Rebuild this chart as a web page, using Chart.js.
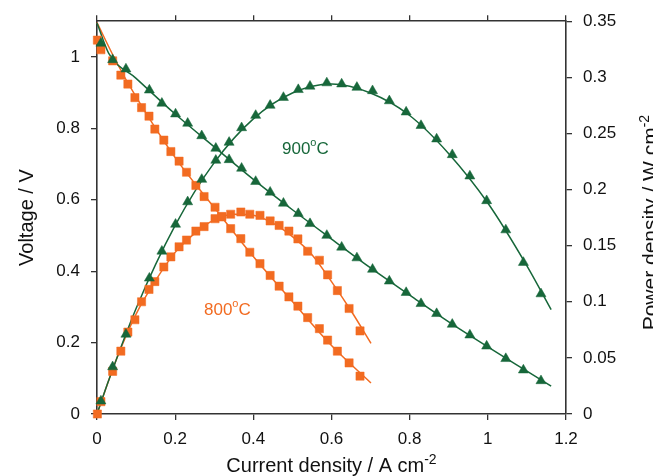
<!DOCTYPE html>
<html><head><meta charset="utf-8">
<script src="https://cdn.jsdelivr.net/npm/chart.js@4/dist/chart.umd.min.js"></script>
<style>html,body{margin:0;padding:0;background:#fff}canvas{display:block}</style>
</head><body>
<canvas id="c" width="653" height="476"></canvas>
<script>
// ---- 900 °C measured points ----
const current900 = [0.010, 0.040, 0.074, 0.134, 0.166, 0.201, 0.232, 0.268, 0.304, 0.338, 0.370, 0.406, 0.443, 0.477, 0.515, 0.545, 0.588, 0.626, 0.665, 0.705, 0.748, 0.791, 0.829, 0.869, 0.909, 0.954, 0.997, 1.046, 1.091, 1.136];
const voltage900 = [1.038, 0.992, 0.966, 0.907, 0.870, 0.840, 0.814, 0.779, 0.744, 0.712, 0.688, 0.651, 0.621, 0.590, 0.561, 0.533, 0.500, 0.467, 0.437, 0.405, 0.372, 0.340, 0.309, 0.281, 0.251, 0.221, 0.190, 0.155, 0.123, 0.093];
const power900 = [0.0115, 0.042, 0.071, 0.121, 0.145, 0.169, 0.189, 0.209, 0.226, 0.242, 0.255, 0.266, 0.275, 0.282, 0.289, 0.292, 0.295, 0.294, 0.291, 0.288, 0.279, 0.269, 0.257, 0.245, 0.231, 0.212, 0.190, 0.164, 0.135, 0.107];

// ---- 800 °C measured points ----
const current800 = [0.001, 0.010, 0.040, 0.061, 0.079, 0.097, 0.114, 0.133, 0.148, 0.171, 0.189, 0.210, 0.229, 0.253, 0.274, 0.302, 0.319, 0.342, 0.368, 0.391, 0.417, 0.443, 0.466, 0.491, 0.514, 0.539, 0.569, 0.590, 0.615, 0.645, 0.673];
const voltage800 = [1.047, 1.020, 0.989, 0.949, 0.924, 0.886, 0.858, 0.834, 0.798, 0.767, 0.735, 0.708, 0.677, 0.640, 0.609, 0.579, 0.552, 0.519, 0.491, 0.453, 0.421, 0.388, 0.358, 0.328, 0.302, 0.270, 0.239, 0.207, 0.176, 0.143, 0.106];
const power800 = [0.000, 0.011, 0.038, 0.056, 0.073, 0.084, 0.100, 0.111, 0.118, 0.131, 0.140, 0.149, 0.155, 0.163, 0.167, 0.174, 0.176, 0.178, 0.180, 0.178, 0.177, 0.172, 0.168, 0.163, 0.156, 0.145, 0.137, 0.124, 0.110, 0.094, 0.074];

// ---- fitted curves ----
const fitCurrent900V = [0, 0.03, 0.1, 0.2, 0.3, 0.4, 0.5, 0.6, 0.7, 0.8, 0.9, 1.0, 1.1, 1.162];
const fitVoltage900 = [1.095, 1.010, 0.940, 0.840, 0.748, 0.657, 0.572, 0.490, 0.409, 0.333, 0.258, 0.188, 0.120, 0.078];
const fitCurrent900P = [0, 0.03, 0.1, 0.2, 0.3, 0.4, 0.5, 0.6, 0.7, 0.8, 0.9, 1.0, 1.1, 1.162];
const fitPower900 = [0, 0.030, 0.094, 0.168, 0.224, 0.263, 0.286, 0.294, 0.286, 0.266, 0.232, 0.188, 0.132, 0.093];
const fitCurrent800V = [0, 0.05, 0.1, 0.2, 0.3, 0.4, 0.5, 0.6, 0.701];
const fitVoltage800 = [1.096, 0.985, 0.888, 0.718, 0.578, 0.441, 0.315, 0.192, 0.087];
const fitCurrent800P = [0, 0.05, 0.1, 0.15, 0.2, 0.25, 0.3, 0.35, 0.4, 0.45, 0.5, 0.55, 0.6, 0.65, 0.701];
const fitPower800 = [0, 0.049, 0.089, 0.119, 0.144, 0.161, 0.173, 0.178, 0.177, 0.170, 0.158, 0.142, 0.118, 0.092, 0.063];

// ---- ticks ----
const xTicks = [0, 0.2, 0.4, 0.6, 0.8, 1, 1.2];
const xTickLabels = ['0', '0.2', '0.4', '0.6', '0.8', '1', '1.2'];
const vTicks = [0, 0.2, 0.4, 0.6, 0.8, 1];
const vTickLabels = ['0', '0.2', '0.4', '0.6', '0.8', '1'];
const pTicks = [0, 0.05, 0.1, 0.15, 0.2, 0.25, 0.3, 0.35];
const pTickLabels = ['0', '0.05', '0.1', '0.15', '0.2', '0.25', '0.3', '0.35'];

const GREEN = '#17673a';
const ORANGE = '#f26b21';
const AXIS = '#333333';
const FF = '"Liberation Sans", Arial, Helvetica, sans-serif';

function pts(xs, ys) { return xs.map((x, i) => ({x: x, y: ys[i]})); }
function setTicks(vals) { return s => { s.ticks = vals.map(v => ({value: v})); }; }
function lab(vals, labels) {
  return v => { const i = vals.findIndex(t => Math.abs(t - v) < 1e-9); return i >= 0 ? labels[i] : ''; };
}

function markers(data, axis, color, style) {
  return {data: data, yAxisID: axis, showLine: false, pointStyle: style,
    pointRadius: style === 'triangle' ? 5.8 : 5.8, pointHoverRadius: 5.6,
    pointBackgroundColor: color, pointBorderColor: color, pointBorderWidth: 0.5,
    order: 0, clip: 10};
}
function fitLine(data, axis, color) {
  return {data: data, yAxisID: axis, showLine: true, pointRadius: 0, borderColor: color,
    borderWidth: 1.5, cubicInterpolationMode: 'monotone', fill: false, order: 1, clip: 10};
}

function drawRuns(ctx, runs, x, y, align) {
  let total = 0;
  runs.forEach(r => { ctx.font = r.size + 'px ' + FF; r.w = ctx.measureText(r.text).width; total += r.w; });
  let cx = align === 'center' ? x - total / 2 : x;
  ctx.textAlign = 'left'; ctx.textBaseline = 'alphabetic';
  runs.forEach(r => { ctx.font = r.size + 'px ' + FF; ctx.fillText(r.text, cx, y - (r.rise || 0)); cx += r.w; });
}

const textPlugin = {
  id: 'texts',
  afterDraw(chart) {
    const ctx = chart.ctx, a = chart.chartArea;
    const cx = (a.left + a.right) / 2, cy = (a.top + a.bottom) / 2;
    ctx.save();
    ctx.fillStyle = '#111';
    drawRuns(ctx, [{text: 'Current density / A cm', size: 20}, {text: '-2', size: 14, rise: 8}], cx, 472, 'center');
    ctx.save(); ctx.translate(33, cy); ctx.rotate(-Math.PI / 2);
    drawRuns(ctx, [{text: 'Voltage / V', size: 20}], 0, 0, 'center');
    ctx.restore();
    ctx.save(); ctx.translate(657, cy + 5); ctx.rotate(-Math.PI / 2);
    drawRuns(ctx, [{text: 'Power density / W cm', size: 21}, {text: '-2', size: 14, rise: 8}], 0, 0, 'center');
    ctx.restore();
    ctx.fillStyle = GREEN;
    drawRuns(ctx, [{text: '900', size: 17}, {text: 'o', size: 11, rise: 8}, {text: 'C', size: 17}], 282, 154, 'left');
    ctx.fillStyle = ORANGE;
    drawRuns(ctx, [{text: '800', size: 17}, {text: 'o', size: 11, rise: 8}, {text: 'C', size: 17}], 204, 315, 'left');
    ctx.restore();
  }
};

const gridOpts = {drawOnChartArea: false, drawTicks: true, tickLength: 6, color: AXIS, lineWidth: 1.3};
const borderOpts = {display: true, color: AXIS, width: 1.6};
const tickFont = {family: FF, size: 17};

new Chart(document.getElementById('c'), {
  type: 'scatter',
  data: {
    datasets: [
      markers(pts(current900, voltage900), 'y', GREEN, 'triangle'),
      markers(pts(current900, power900), 'y2', GREEN, 'triangle'),
      markers(pts(current800, voltage800), 'y', ORANGE, 'rect'),
      markers(pts(current800, power800), 'y2', ORANGE, 'rect'),
      fitLine(pts(fitCurrent900V, fitVoltage900), 'y', GREEN),
      fitLine(pts(fitCurrent900P, fitPower900), 'y2', GREEN),
      fitLine(pts(fitCurrent800V, fitVoltage800), 'y', ORANGE),
      fitLine(pts(fitCurrent800P, fitPower800), 'y2', ORANGE)
    ]
  },
  options: {
    responsive: false, animation: false, devicePixelRatio: 1,
    layout: {padding: 0},
    plugins: {legend: {display: false}, tooltip: {enabled: false}},
    scales: {
      x: {type: 'linear', position: 'bottom', min: 0, max: 1.2,
        afterBuildTicks: setTicks(xTicks),
        afterFit: s => { s.height = 62; },
        grid: gridOpts, border: borderOpts,
        ticks: {font: tickFont, color: '#111', padding: 9, maxRotation: 0, callback: lab(xTicks, xTickLabels)}},
      xTop: {type: 'linear', position: 'top', min: 0, max: 1.2,
        afterBuildTicks: setTicks(xTicks),
        afterFit: s => { s.height = 20; },
        grid: gridOpts, border: borderOpts,
        ticks: {display: false}},
      y: {type: 'linear', position: 'left', min: 0, max: 1.1,
        afterBuildTicks: setTicks(vTicks),
        afterFit: s => { s.width = 97; },
        grid: gridOpts, border: borderOpts,
        ticks: {font: tickFont, color: '#111', padding: 11, callback: lab(vTicks, vTickLabels)}},
      y2: {type: 'linear', position: 'right', min: 0, max: 0.35,
        afterBuildTicks: setTicks(pTicks),
        afterFit: s => { s.width = 87; },
        grid: gridOpts, border: borderOpts,
        ticks: {font: tickFont, color: '#111', padding: 11, callback: lab(pTicks, pTickLabels)}}
    }
  },
  plugins: [textPlugin]
});
</script>
</body></html>
